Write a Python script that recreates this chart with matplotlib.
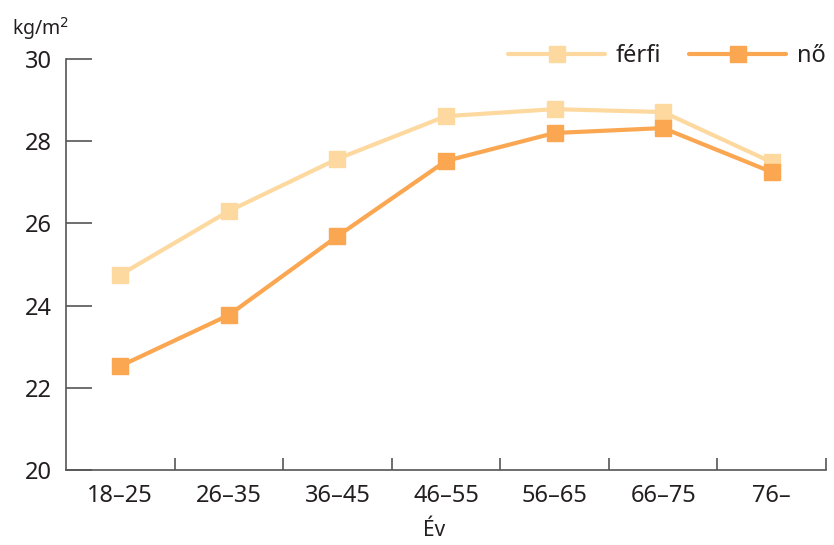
import matplotlib.pyplot as plt
from matplotlib.ticker import FixedLocator

plt.rcParams['font.family'] = ['Noto Sans', 'DejaVu Sans']

age_groups = ['18–25', '26–35', '36–45', '46–55', '56–65', '66–75', '76–']
ferfi = [24.75, 26.3, 27.57, 28.61, 28.78, 28.71, 27.49]
no = [22.53, 23.77, 25.69, 27.52, 28.2, 28.32, 27.25]

c_ferfi = '#fdd9a0'
c_no = '#fba651'
axis_col = '#555555'
text_col = '#231f20'

fig = plt.figure(figsize=(8.34, 5.45), dpi=100)
ax = fig.add_axes([0.0791, 0.1376, 0.9113, 0.7541])

x = list(range(len(age_groups)))
ax.plot(x, ferfi, color=c_ferfi, lw=3, marker='s', ms=12, label='férfi',
        solid_capstyle='round')
ax.plot(x, no, color=c_no, lw=3, marker='s', ms=12, label='nő',
        solid_capstyle='round')

ax.set_xlim(-0.5, len(age_groups) - 0.5)
ax.set_ylim(20, 30)
ax.set_yticks([20, 22, 24, 26, 28, 30])

# labels sit at the category centres, tick marks at the boundaries
ax.set_xticks(x)
ax.set_xticklabels(age_groups)
ax.xaxis.set_minor_locator(FixedLocator([i + 0.5 for i in x]))
ax.tick_params(axis='x', which='major', length=0, pad=10,
               labelsize=17, labelcolor=text_col)
ax.tick_params(axis='x', which='minor', direction='in', length=9,
               width=1.2, color=axis_col)
ax.tick_params(axis='y', direction='in', length=19, width=1.2,
               color=axis_col, labelsize=17, labelcolor=text_col, pad=10)

for s in ['top', 'right']:
    ax.spines[s].set_visible(False)
for s in ['left', 'bottom']:
    ax.spines[s].set_color(axis_col)
    ax.spines[s].set_linewidth(1.2)

fig.text(0.014, 0.948, 'kg/m$^2$', fontsize=14, color=text_col, va='center')
fig.text(0.52, 0.008, 'Év', fontsize=15, color=text_col, ha='center', va='bottom')

leg = ax.legend(loc='center right', bbox_to_anchor=(0.99, 0.897),
                bbox_transform=fig.transFigure, ncol=2, frameon=False,
                fontsize=17, handlelength=4.1, columnspacing=1.2,
                handletextpad=0.45, borderaxespad=0, borderpad=0,
                labelcolor=text_col)

fig.savefig('out.png', dpi=100)
